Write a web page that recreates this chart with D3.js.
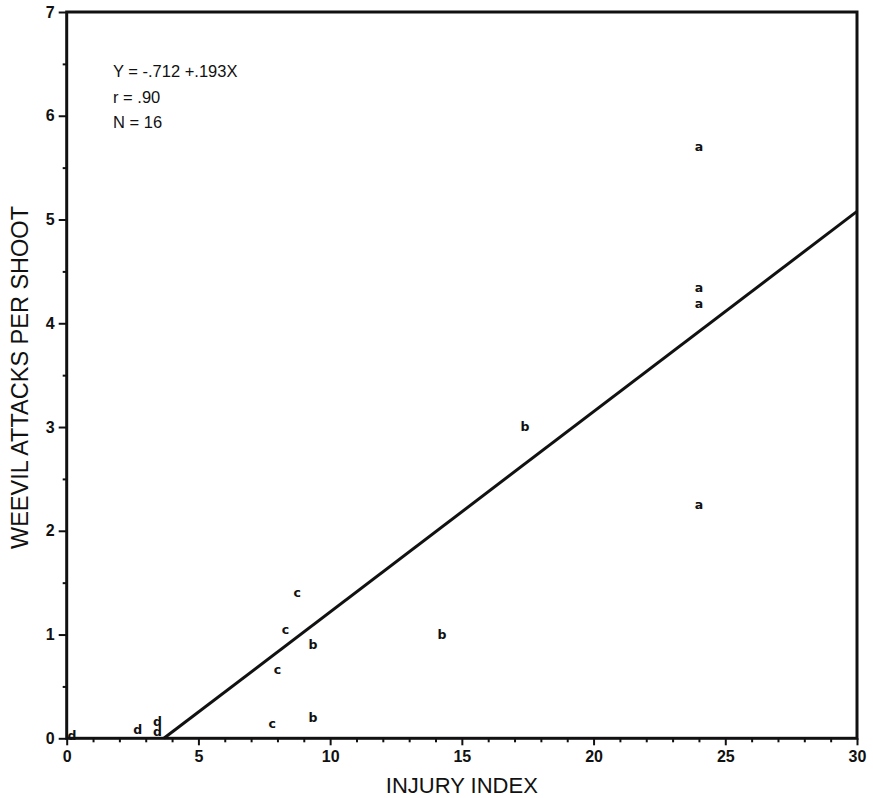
<!DOCTYPE html>
<html>
<head>
<meta charset="utf-8">
<script src="https://cdn.jsdelivr.net/npm/d3@7"></script>
<style>
  html, body { margin: 0; padding: 0; background: #fff; }
  svg { display: block; }
</style>
</head>
<body>
<svg id="chart" width="873" height="798"></svg>
<script>
// ---- data ----
const injuryIndex = [24, 24, 24, 24, 17.4, 14.25, 9.35, 9.35, 8.75, 8.3, 8.0, 7.8, 2.7, 3.45, 3.45, 0.2];
const weevilAttacks = [5.70, 4.34, 4.19, 2.25, 3.0, 1.0, 0.90, 0.20, 1.40, 1.05, 0.66, 0.14, 0.08, 0.16, 0.06, 0.03];
const pointLabels = ["a", "a", "a", "a", "b", "b", "b", "b", "c", "c", "c", "c", "d", "d", "d", "d"];
const xTickValues = [0, 5, 10, 15, 20, 25, 30];
const yTickValues = [0, 1, 2, 3, 4, 5, 6, 7];
const intercept = -0.712;
const slope = 0.193;
const statsLines = ["Y = -.712 +.193X", "r = .90", "N = 16"];
const xTitle = "INJURY INDEX";
const yTitle = "WEEVIL ATTACKS PER SHOOT";

(function () {
// ---- layout ----
const pLeft = 66.7, pRight = 857, pTop = 12, pBottom = 738.3;
const svg = d3.select("#chart");
const x = d3.scaleLinear().domain([0, 30]).range([pLeft, pRight]);
const y = d3.scaleLinear().domain([0, 7]).range([pBottom, pTop]);

const ink = "#111";

// minor ticks
const xMinor = d3.range(0, 31, 1).filter(v => v % 5 !== 0);
const yMinor = d3.range(0.5, 7, 1);

// X axis
const xAxis = d3.axisBottom(x).tickValues(xTickValues).tickFormat(d3.format("d")).tickSize(7).tickPadding(5);
const gx = svg.append("g").attr("transform", `translate(0,${pBottom})`).call(xAxis);
gx.select(".domain").remove();
gx.selectAll(".tick line").attr("stroke", ink).attr("stroke-width", 2);
gx.selectAll(".tick text").attr("fill", ink).style("font-family", "'Liberation Sans', Arial, sans-serif")
  .style("font-size", "16px").style("font-weight", "bold");
const gxm = svg.append("g").attr("transform", `translate(0,${pBottom})`)
  .call(d3.axisBottom(x).tickValues(xMinor).tickSize(4).tickFormat(""));
gxm.select(".domain").remove();
gxm.selectAll(".tick line").attr("stroke", ink).attr("stroke-width", 2);

// Y axis
const yAxis = d3.axisLeft(y).tickValues(yTickValues).tickFormat(d3.format("d")).tickSize(8).tickPadding(4);
const gy = svg.append("g").attr("transform", `translate(${pLeft},0)`).call(yAxis);
gy.select(".domain").remove();
gy.selectAll(".tick line").attr("stroke", ink).attr("stroke-width", 2);
gy.selectAll(".tick text").attr("fill", ink).style("font-family", "'Liberation Sans', Arial, sans-serif")
  .style("font-size", "16px").style("font-weight", "bold");
const gym = svg.append("g").attr("transform", `translate(${pLeft},0)`)
  .call(d3.axisLeft(y).tickValues(yMinor).tickSize(4).tickFormat(""));
gym.select(".domain").remove();
gym.selectAll(".tick line").attr("stroke", ink).attr("stroke-width", 2);

// frame
svg.append("rect")
  .attr("x", x(0)).attr("y", y(7))
  .attr("width", x(30) - x(0)).attr("height", y(0) - y(7))
  .attr("fill", "none").attr("stroke", ink).attr("stroke-width", 3);

// regression line
const x0 = -intercept / slope;
const lineData = [x0, 30].map(v => [v, intercept + slope * v]);
svg.append("path")
  .attr("d", d3.line().x(d => x(d[0])).y(d => y(d[1]))(lineData))
  .attr("fill", "none").attr("stroke", ink).attr("stroke-width", 3);

// points as letters
svg.append("g").selectAll("text")
  .data(injuryIndex.map((v, i) => ({ x: v, y: weevilAttacks[i], t: pointLabels[i] })))
  .join("text")
  .attr("x", d => x(d.x)).attr("y", d => y(d.y))
  .attr("dy", "0.35em")
  .attr("text-anchor", "middle")
  .attr("fill", ink)
  .style("font-family", "'DejaVu Sans', sans-serif")
  .style("font-size", "12.5px")
  .style("font-weight", "bold")
  .text(d => d.t);

// stats annotation
svg.append("g").selectAll("text")
  .data(statsLines)
  .join("text")
  .attr("x", 113).attr("y", (d, i) => 77 + i * 25.5)
  .attr("fill", ink)
  .style("font-family", "'Liberation Sans', Arial, sans-serif")
  .style("font-size", "16.5px")
  .text(d => d);

// axis titles
svg.append("text")
  .attr("x", (pLeft + pRight) / 2).attr("y", 793)
  .attr("text-anchor", "middle").attr("fill", ink)
  .style("font-family", "'Liberation Sans', Arial, sans-serif")
  .style("font-size", "22px")
  .text(xTitle);

svg.append("text")
  .attr("transform", "translate(28,377.5) rotate(-90)")
  .attr("text-anchor", "middle").attr("fill", ink)
  .style("font-family", "'Liberation Sans', Arial, sans-serif")
  .style("font-size", "23.5px")
  .text(yTitle);
})();
</script>
</body>
</html>
